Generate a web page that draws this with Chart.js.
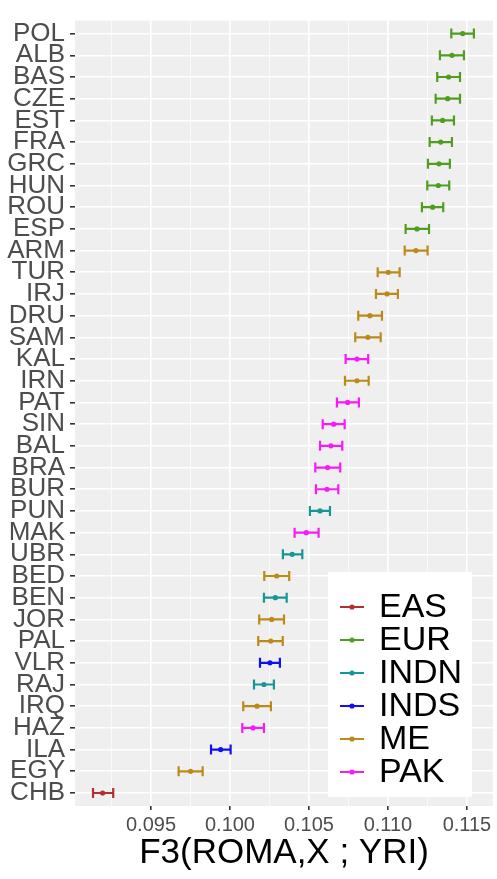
<!DOCTYPE html>
<html>
<head>
<meta charset="utf-8">
<script src="https://cdn.jsdelivr.net/npm/chart.js@4/dist/chart.umd.min.js"></script>
<style>
  html, body { margin: 0; padding: 0; background: #fff; }
</style>
</head>
<body>
<canvas id="f3Chart" width="497" height="879"></canvas>
<script>
// Data
const pops = ["POL","ALB","BAS","CZE","EST","FRA","GRC","HUN","ROU","ESP","ARM","TUR","IRJ","DRU","SAM","KAL","IRN","PAT","SIN","BAL","BRA","BUR","PUN","MAK","UBR","BED","BEN","JOR","PAL","VLR","RAJ","IRQ","HAZ","ILA","EGY","CHB"];
const regions = ["EUR","EUR","EUR","EUR","EUR","EUR","EUR","EUR","EUR","EUR","ME","ME","ME","ME","ME","PAK","ME","PAK","PAK","PAK","PAK","PAK","INDN","PAK","INDN","ME","INDN","ME","ME","INDS","INDN","ME","PAK","INDS","ME","EAS"];
const f3 = [0.11473,0.11405,0.11384,0.11378,0.11346,0.11334,0.11323,0.11319,0.11283,0.11184,0.11177,0.11002,0.10994,0.10886,0.10873,0.10804,0.10804,0.10745,0.10656,0.10639,0.10618,0.10614,0.10570,0.10483,0.10394,0.10296,0.10287,0.10264,0.10258,0.10253,0.10215,0.10171,0.10146,0.09941,0.09751,0.09194];
const lower = [0.11401,0.11329,0.11312,0.11302,0.11278,0.11264,0.11253,0.11249,0.11215,0.11112,0.11106,0.10935,0.10924,0.10812,0.10793,0.10732,0.10728,0.10677,0.10587,0.10570,0.10540,0.10544,0.10506,0.10409,0.10335,0.10217,0.10215,0.10185,0.10179,0.10190,0.10152,0.10084,0.10078,0.09880,0.09675,0.09133];
const upper = [0.11544,0.11481,0.11456,0.11456,0.11418,0.11405,0.11392,0.11388,0.11350,0.11260,0.11251,0.11074,0.11063,0.10962,0.10954,0.10875,0.10878,0.10816,0.10726,0.10711,0.10698,0.10686,0.10633,0.10561,0.10458,0.10375,0.10359,0.10342,0.10334,0.10316,0.10278,0.10259,0.10215,0.10004,0.09827,0.09261];

const groups = ["EAS","EUR","INDN","INDS","ME","PAK"];
const groupColors = ["#B2302E","#4F9E20","#179696","#1010F5","#BC8A18","#F51CF5"];

const majorTicks = [0.095, 0.100, 0.105, 0.110, 0.115];
const minorTicks = [0.0925, 0.0975, 0.1025, 0.1075, 0.1125];

const FONT = "'Liberation Sans', Arial, Helvetica, sans-serif";

// one dataset per region
const datasets = groups.map((g, gi) => {
  const pts = [];
  pops.forEach((p, i) => {
    if (regions[i] === g) pts.push({ x: f3[i], y: i, lo: lower[i], hi: upper[i] });
  });
  return {
    label: g,
    data: pts,
    backgroundColor: groupColors[gi],
    borderColor: groupColors[gi],
    pointRadius: 2.6,
    pointBorderWidth: 0
  };
});

const isMajor = v => majorTicks.some(t => Math.abs(t - v) < 1e-9);

// grey panel
const panelBg = {
  id: "panelBg",
  beforeDraw(chart) {
    const { ctx, chartArea: a } = chart;
    ctx.save();
    ctx.fillStyle = "#EFEFEF";
    ctx.fillRect(a.left, a.top, a.right - a.left, a.bottom - a.top);
    ctx.restore();
  }
};

// error bars drawn with the scales
const errorBars = {
  id: "errorBars",
  beforeDatasetsDraw(chart) {
    const { ctx, scales: { x, y } } = chart;
    ctx.save();
    ctx.lineWidth = 2.2;
    chart.data.datasets.forEach(ds => {
      ctx.strokeStyle = ds.borderColor;
      ds.data.forEach(d => {
        const x0 = x.getPixelForValue(d.lo);
        const x1 = x.getPixelForValue(d.hi);
        const py = y.getPixelForValue(d.y);
        ctx.beginPath();
        ctx.moveTo(x0, py); ctx.lineTo(x1, py);
        ctx.moveTo(x0, py - 5); ctx.lineTo(x0, py + 5);
        ctx.moveTo(x1, py - 5); ctx.lineTo(x1, py + 5);
        ctx.stroke();
      });
    });
    ctx.restore();
  }
};

// ggplot-like legend inside the panel
const insideLegend = {
  id: "insideLegend",
  afterDraw(chart) {
    const { ctx } = chart;
    ctx.save();
    ctx.fillStyle = "#FFFFFF";
    ctx.fillRect(328, 572, 144, 225);
    ctx.font = "34px " + FONT;
    ctx.textBaseline = "middle";
    chart.data.datasets.forEach((ds, i) => {
      const ry = 607 + i * 33;
      ctx.strokeStyle = ds.borderColor;
      ctx.lineWidth = 2;
      ctx.beginPath();
      ctx.moveTo(340, ry); ctx.lineTo(364, ry);
      ctx.stroke();
      ctx.fillStyle = ds.borderColor;
      ctx.beginPath();
      ctx.arc(352, ry, 2.6, 0, Math.PI * 2);
      ctx.fill();
      ctx.fillStyle = "#000";
      ctx.fillText(ds.label, 379, ry + 1);
    });
    ctx.restore();
  }
};

new Chart(document.getElementById("f3Chart"), {
  type: "scatter",
  data: { datasets },
  plugins: [panelBg, errorBars, insideLegend],
  options: {
    responsive: false,
    animation: false,
    layout: { padding: { top: 7, right: 4, left: 0, bottom: 0 } },
    plugins: { legend: { display: false }, tooltip: { enabled: false } },
    scales: {
      x: {
        min: 0.09019,
        max: 0.11665,
        afterBuildTicks: s => {
          s.ticks = majorTicks.concat(minorTicks).sort((a, b) => a - b).map(v => ({ value: v }));
        },
        afterFit: s => { s.height = 73; },
        border: { display: false },
        grid: {
          color: "#FFFFFF",
          lineWidth: c => (isMajor(c.tick.value) ? 1.6 : 0.7),
          tickColor: c => (isMajor(c.tick.value) ? "#333333" : "rgba(0,0,0,0)"),
          tickLength: 4
        },
        ticks: {
          autoSkip: false,
          maxRotation: 0,
          padding: 3,
          color: "#4D4D4D",
          font: { family: FONT, size: 20 },
          callback: v => (isMajor(v) ? v.toFixed(3) : "")
        },
        title: {
          display: true,
          text: "F3(ROMA,X ; YRI)",
          color: "#000",
          font: { family: FONT, size: 35 },
          padding: { top: 0, bottom: 5 }
        }
      },
      y: {
        min: -0.6,
        max: pops.length - 0.4,
        reverse: true,
        afterBuildTicks: s => { s.ticks = pops.map((_, i) => ({ value: i })); },
        afterFit: s => { s.width = 75; },
        border: { display: false },
        grid: {
          color: "#FFFFFF",
          lineWidth: 1.6,
          tickColor: "#333333",
          tickLength: 5
        },
        ticks: {
          autoSkip: false,
          padding: 5,
          color: "#4D4D4D",
          font: { family: FONT, size: 26 },
          callback: v => pops[v]
        }
      }
    }
  }
});
</script>
</body>
</html>
